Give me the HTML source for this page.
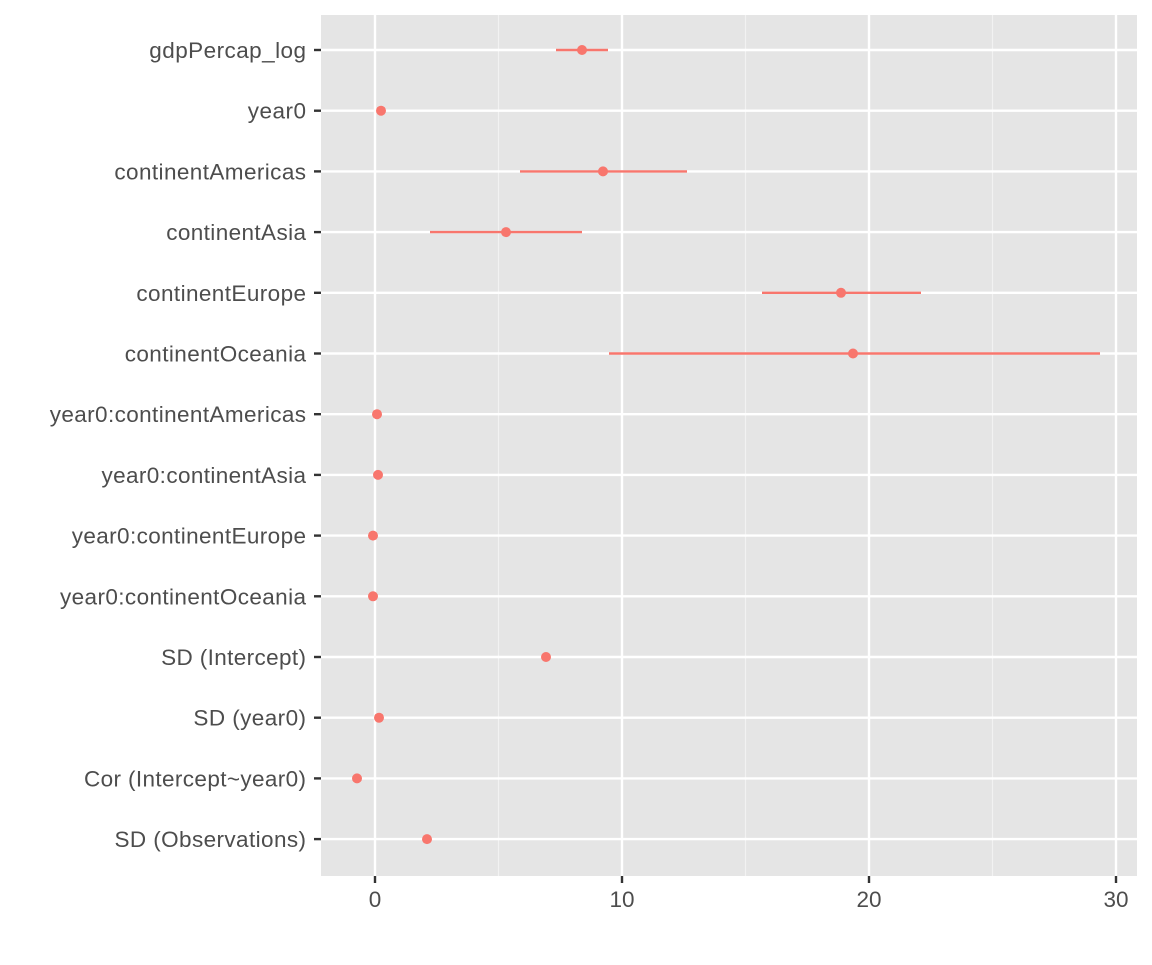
<!DOCTYPE html><html><head><style>body{margin:0;background:#fff}</style></head><body>
<svg width="1152" height="960" xmlns="http://www.w3.org/2000/svg" font-family="Liberation Sans, sans-serif">
<rect x="321" y="15" width="816" height="861" fill="#e5e5e5"/>
<g stroke="#f2f2f2" stroke-width="1.2">
<line x1="498.5" y1="15" x2="498.5" y2="876"/><line x1="745.5" y1="15" x2="745.5" y2="876"/><line x1="992.5" y1="15" x2="992.5" y2="876"/>
</g>
<g stroke="#fff" stroke-width="2.4">
<line x1="375" y1="15" x2="375" y2="876"/><line x1="622" y1="15" x2="622" y2="876"/><line x1="869" y1="15" x2="869" y2="876"/><line x1="1116" y1="15" x2="1116" y2="876"/>
</g>
<g id="rows" stroke="#fff" stroke-width="2.4"></g>
<g id="ticks" stroke="#333" stroke-width="2.4"></g>
<g id="labels" fill="#4d4d4d" font-size="22.5" text-anchor="end" textLength="0"></g>
<g id="data" stroke="#f8766d" stroke-width="2.4" fill="#f8766d"></g>
<g fill="#4d4d4d" font-size="22.5" text-anchor="middle">
<text x="375" y="907">0</text><text x="622" y="907">10</text><text x="869" y="907">20</text><text x="1116" y="907">30</text>
</g>
<g stroke="#333" stroke-width="2.4">
<line x1="375" y1="876" x2="375" y2="883"/><line x1="622" y1="876" x2="622" y2="883"/><line x1="869" y1="876" x2="869" y2="883"/><line x1="1116" y1="876" x2="1116" y2="883"/>
</g>
</svg>
<script>
const names=["gdpPercap_log","year0","continentAmericas","continentAsia","continentEurope","continentOceania","year0:continentAmericas","year0:continentAsia","year0:continentEurope","year0:continentOceania","SD (Intercept)","SD (year0)","Cor (Intercept~year0)","SD (Observations)"];
const pts=[[582,556,608],[381],[603,520,687],[506,430,582],[841,762,921],[853,609,1100],[377],[378],[373],[373],[546],[379],[357],[427]];
const ns="http://www.w3.org/2000/svg";
function el(p,t,a,txt){const e=document.createElementNS(ns,t);for(const k in a)e.setAttribute(k,a[k]);if(txt)e.textContent=txt;document.getElementById(p).appendChild(e);return e;}
names.forEach((n,i)=>{const y=50+i*60.7;
el("rows","line",{x1:321,x2:1137,y1:y,y2:y});
el("ticks","line",{x1:314,x2:321,y1:y,y2:y});
const t=el("labels","text",{x:306,y:y+8},n);
t.setAttribute("textLength",(t.getComputedTextLength()*1.035).toFixed(1));
t.setAttribute("lengthAdjust","spacing");
const p=pts[i];if(p.length>1)el("data","line",{x1:p[1],x2:p[2],y1:y,y2:y});
el("data","circle",{cx:p[0],cy:y,r:5,stroke:"none"});});
</script>
</body></html>
